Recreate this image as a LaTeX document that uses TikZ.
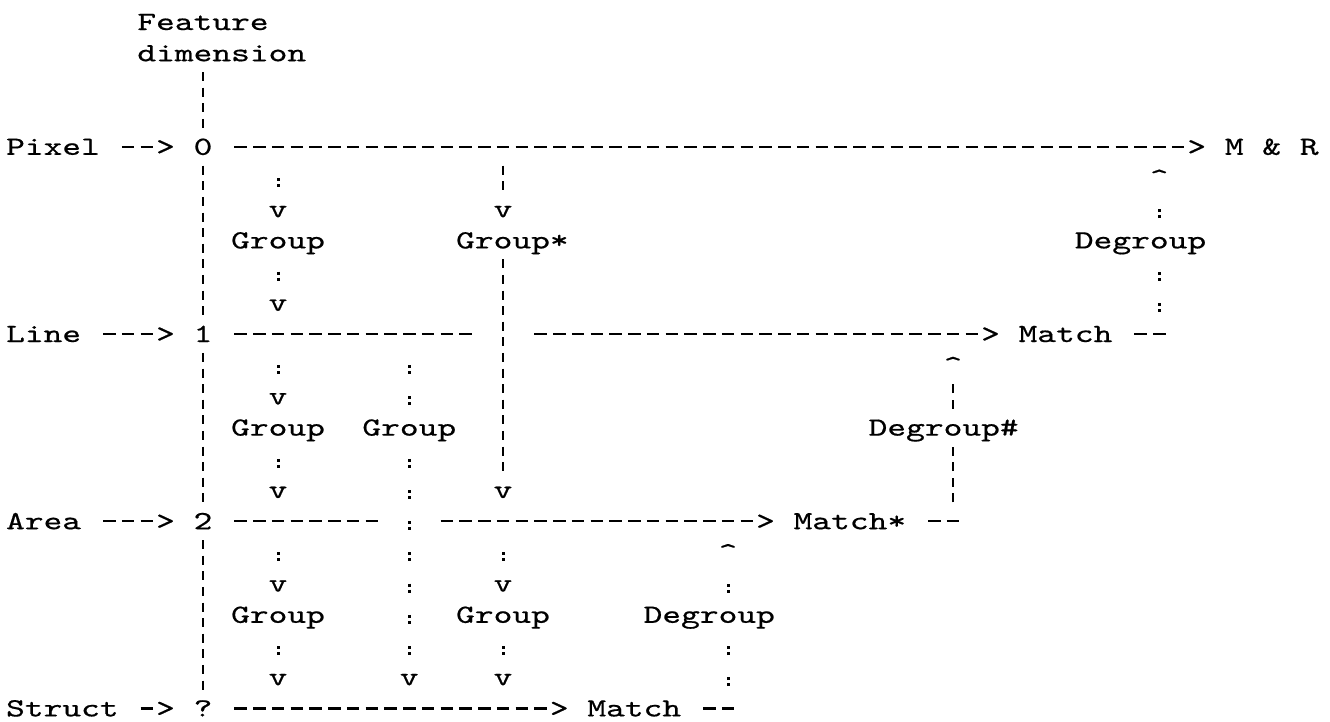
\documentclass[tikz,border=0pt]{standalone}
\usepackage{fontspec}
\usetikzlibrary{calc}
\newfontfamily\asciifont{lmmono10-regular}[Extension=.otf,FakeStretch=1.3632,FakeBold=0.6]
\tikzset{
  txt/.style={font=\asciifont\fontsize{26.2}{31}\selectfont, inner sep=0pt, outer sep=0pt,
              anchor=base west, text height=16pt, text depth=0pt},
  hd/.style 2 args={line width=2.2pt, dash pattern=on 12.5pt off 6.25pt, shorten <=#1, shorten >=#2},
  vb/.style 2 args={line width=2pt, dash pattern=on 9pt off 6.6pt, shorten <=#1, shorten >=#2},
  cl/.style 2 args={line width=3pt, dash pattern=on 3pt off 3pt on 3pt off 22.2pt, shorten <=#1, shorten >=#2},
}
\begin{document}
\begin{tikzpicture}[x=18.75pt, y=-31.2pt]
\useasboundingbox (0,0) rectangle (70.9333,23.109);
\begin{scope}[shift={(0.3267,0.96154)}]
% axis labels
\node[txt] (feat) at (7,0) {Feature};
\node[txt] (dim) at (7,1) {dimension};
% Pixel row
\node[txt] (pix) at (0,4) {Pixel};
\node[txt] (gP) at (8,4) {>};
\node[txt] (n0) at (10,4) {0};
\node[txt] (gMR) at (63,4) {>};
\node[txt] (mr) at (65,4) {M \& R};
% Line row
\node[txt] (line) at (0,10) {Line};
\node[txt] (gL) at (8,10) {>};
\node[txt] (n1) at (10,10) {1};
\node[txt] (gL2) at (52,10) {>};
\node[txt] (m1) at (54,10) {Match};
% Area row
\node[txt] (area) at (0,16) {Area};
\node[txt] (gA) at (8,16) {>};
\node[txt] (n2) at (10,16) {2};
\node[txt] (gA2) at (40,16) {>};
\node[txt] (m2) at (42,16) {Match*};
% Struct row
\node[txt] (struct) at (0,22) {Struct};
\node[txt] (gS) at (8,22) {>};
\node[txt] (nq) at (10,22) {?};
\node[txt] (gS2) at (29,22) {>};
\node[txt] (m3) at (31,22) {Match};
% groups between Pixel and Line
\node[txt] (vA) at (14,6) {v};
\node[txt] (g1) at (12,7) {Group};
\node[txt] (vB) at (14,9) {v};
\node[txt] (vC) at (26,6) {v};
\node[txt] (gs) at (24,7) {Group*};
\node[txt] (vD) at (26,15) {v};
\node[txt] (up1) at (61,5) {\textasciicircum};
\node[txt] (dg1) at (57,7) {Degroup};
% groups between Line and Area
\node[txt] (vE) at (14,12) {v};
\node[txt] (g2) at (12,13) {Group};
\node[txt] (vF) at (14,15) {v};
\node[txt] (g3) at (19,13) {Group};
\node[txt] (vG) at (21,21) {v};
\node[txt] (up2) at (50,11) {\textasciicircum};
\node[txt] (dg2) at (46,13) {Degroup\#};
% groups between Area and Struct
\node[txt] (vH) at (14,18) {v};
\node[txt] (g4) at (12,19) {Group};
\node[txt] (vI) at (14,21) {v};
\node[txt] (vJ) at (26,18) {v};
\node[txt] (g5) at (24,19) {Group};
\node[txt] (vK) at (26,21) {v};
\node[txt] (up3) at (38,17) {\textasciicircum};
\node[txt] (dg3) at (34,19) {Degroup};
\end{scope}
% horizontal dashed connectors
\draw[hd={21.875pt}{3.125pt}] (pix.east) -- (gP.west);
\draw[hd={21.875pt}{3.125pt}] (n0.east) -- (gMR.west);
\draw[hd={21.875pt}{3.125pt}] (line.east) -- (gL.west);
\draw[hd={21.875pt}{31.25pt}] (n1.east) -- (vD.center |- n1.east);
\draw[hd={31.25pt}{3.125pt}] (vD.center |- n1.east) -- (gL2.west);
\draw[hd={21.875pt}{-6.25pt}] (m1.east) -- (up1.center |- m1.east);
\draw[hd={21.875pt}{3.125pt}] (area.east) -- (gA.west);
\draw[hd={21.875pt}{31.25pt}] (n2.east) -- (vG.center |- n2.east);
\draw[hd={31.25pt}{3.125pt}] (vG.center |- n2.east) -- (gA2.west);
\draw[hd={21.875pt}{-6.25pt}] (m2.east) -- (up2.center |- m2.east);
\draw[hd={21.875pt}{3.125pt}] (struct.east) -- (gS.west);
\draw[hd={21.875pt}{3.125pt}] (nq.east) -- (gS2.west);
\draw[hd={21.875pt}{-6.25pt}] (m3.east) -- (up3.center |- m3.east);
% feature axis (broken bars)
\draw[vb={10.9pt}{10.9pt}] (n0.center |- dim.south) -- (n0.north);
\draw[vb={10.9pt}{10.9pt}] (n0.south) -- (n1.north);
\draw[vb={10.9pt}{10.9pt}] (n1.south) -- (n2.north);
\draw[vb={10.9pt}{10.9pt}] (n2.south) -- (nq.north);
% Group* column
\draw[vb={18.9pt}{10.9pt}] (vC.center |- n0.east) -- (vC.north);
\draw[vb={10.9pt}{10.9pt}] (vD.center |- gs.south) -- (vD.north);
% Degroup# column
\draw[vb={18.9pt}{10.9pt}] (up2.center |- m2.east) -- (up2.center |- dg2.south);
\draw[vb={10.9pt}{10.9pt}] (up2.center |- dg2.north) -- (up2.south);
% colon connectors
\draw[cl={31.2pt}{14.2pt}] (vA.center |- n0.east) -- (vA.north);
\draw[cl={23.2pt}{14.2pt}] (vB.center |- g1.south) -- (vB.north);
\draw[cl={31.2pt}{14.2pt}] (vE.center |- n1.east) -- (vE.north);
\draw[cl={23.2pt}{14.2pt}] (vF.center |- g2.south) -- (vF.north);
\draw[cl={31.2pt}{14.2pt}] (vG.center |- n1.east) -- (vG.center |- g3.north);
\draw[cl={23.2pt}{14.2pt}] (vG.center |- g3.south) -- (vG.north);
\draw[cl={31.2pt}{14.2pt}] (vH.center |- n2.east) -- (vH.north);
\draw[cl={23.2pt}{14.2pt}] (vI.center |- g4.south) -- (vI.north);
\draw[cl={31.2pt}{14.2pt}] (vJ.center |- n2.east) -- (vJ.north);
\draw[cl={23.2pt}{14.2pt}] (vK.center |- g5.south) -- (vK.north);
\draw[cl={22.2pt}{23.2pt}] (up1.center |- m1.east) -- (up1.center |- dg1.south);
\draw[cl={14.2pt}{23.2pt}] (up1.center |- dg1.north) -- (up1.south);
\draw[cl={22.2pt}{23.2pt}] (up3.center |- m3.east) -- (up3.center |- dg3.south);
\draw[cl={14.2pt}{23.2pt}] (up3.center |- dg3.north) -- (up3.south);
\end{tikzpicture}
\end{document}
